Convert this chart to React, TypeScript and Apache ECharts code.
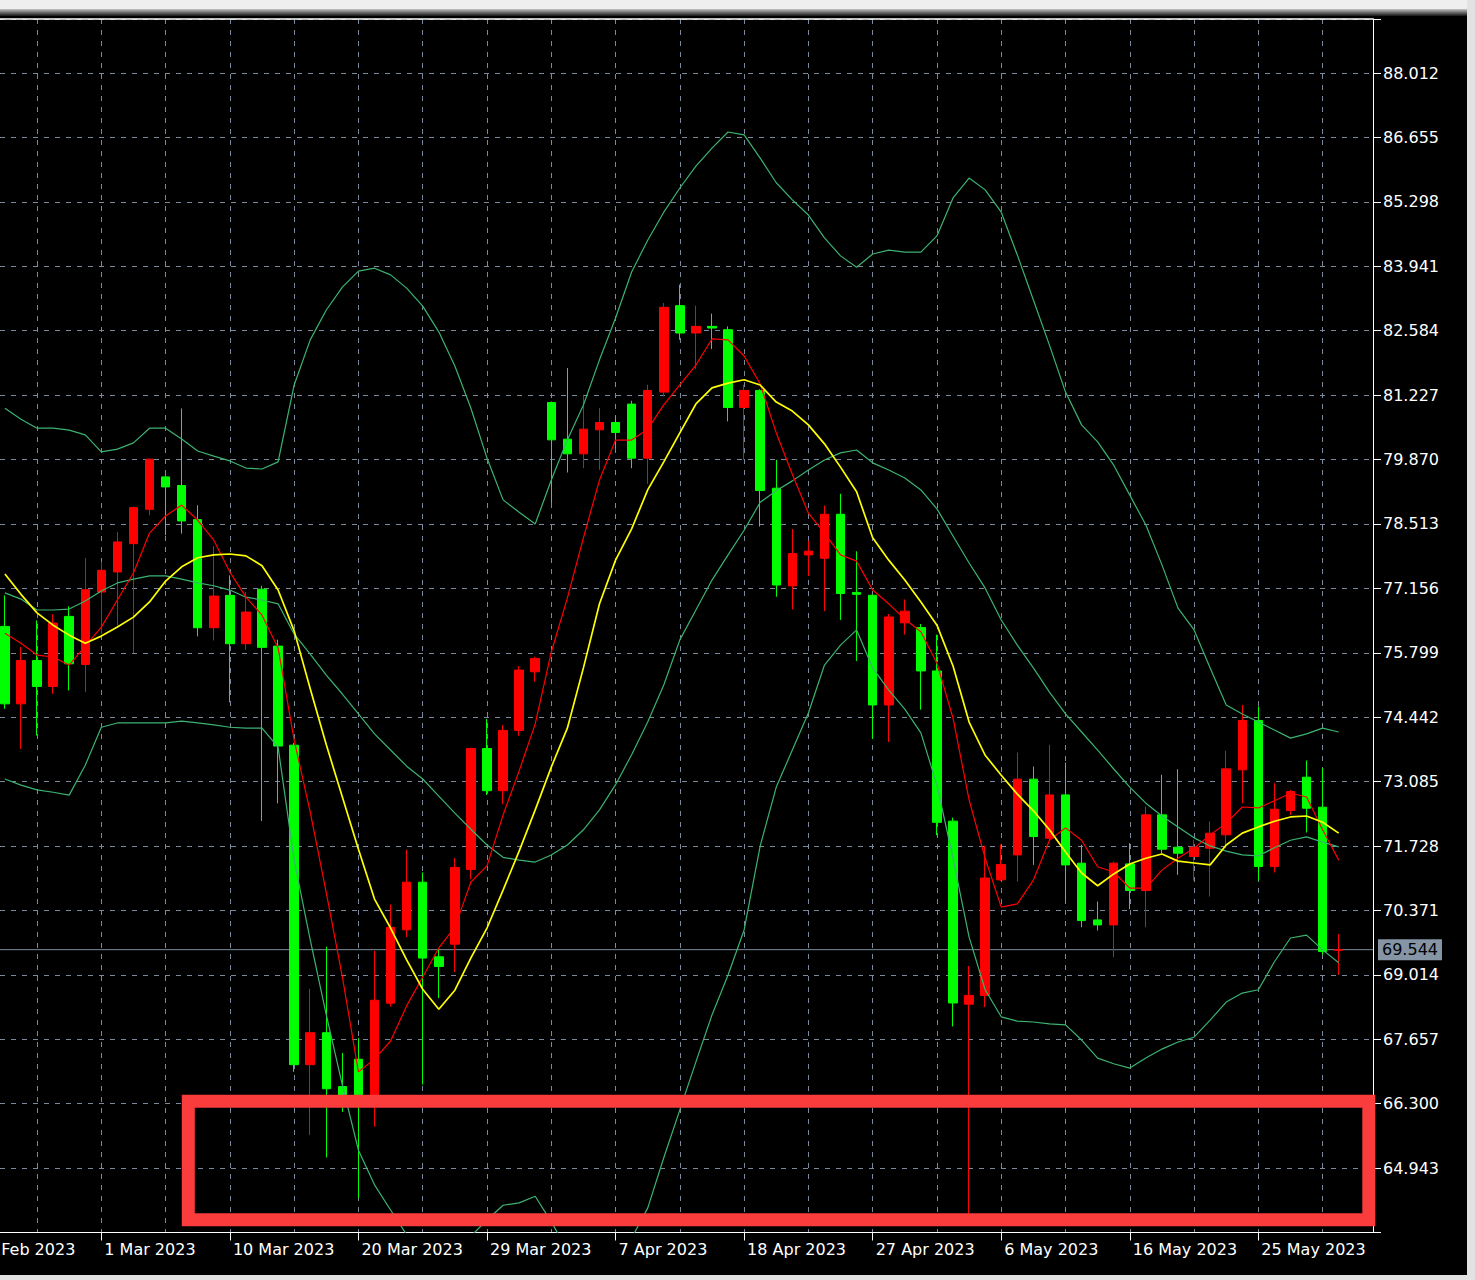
import React, { useEffect, useRef } from 'react';
import * as echarts from 'echarts';

// Bar dates (20 & 21 Feb are scrolled off to the left of the visible window)
const dates = [
  '20 Feb 2023', '21 Feb 2023', '22 Feb 2023', '23 Feb 2023', '24 Feb 2023', '25 Feb 2023', '27 Feb 2023', '28 Feb 2023',
  '1 Mar 2023', '2 Mar 2023', '3 Mar 2023', '4 Mar 2023', '6 Mar 2023', '7 Mar 2023', '8 Mar 2023', '9 Mar 2023',
  '10 Mar 2023', '11 Mar 2023', '13 Mar 2023', '14 Mar 2023', '15 Mar 2023', '16 Mar 2023', '17 Mar 2023', '18 Mar 2023',
  '20 Mar 2023', '21 Mar 2023', '22 Mar 2023', '23 Mar 2023', '24 Mar 2023', '25 Mar 2023', '27 Mar 2023', '28 Mar 2023',
  '29 Mar 2023', '30 Mar 2023', '31 Mar 2023', '1 Apr 2023', '3 Apr 2023', '4 Apr 2023', '5 Apr 2023', '6 Apr 2023',
  '7 Apr 2023', '10 Apr 2023', '11 Apr 2023', '12 Apr 2023', '13 Apr 2023', '14 Apr 2023', '15 Apr 2023', '17 Apr 2023',
  '18 Apr 2023', '19 Apr 2023', '20 Apr 2023', '21 Apr 2023', '22 Apr 2023', '24 Apr 2023', '25 Apr 2023', '26 Apr 2023',
  '27 Apr 2023', '28 Apr 2023', '29 Apr 2023', '1 May 2023', '2 May 2023', '3 May 2023', '4 May 2023', '5 May 2023',
  '6 May 2023', '8 May 2023', '9 May 2023', '10 May 2023', '11 May 2023', '12 May 2023', '13 May 2023', '15 May 2023',
  '16 May 2023', '17 May 2023', '18 May 2023', '19 May 2023', '20 May 2023', '22 May 2023', '23 May 2023', '24 May 2023',
  '25 May 2023', '26 May 2023', '27 May 2023', '29 May 2023', '30 May 2023', '31 May 2023',
];
const hiddenLeadBars = 2;

const opens = [
  76.354, 74.723, 75.637, 75.089, 76.565, 75.553, 77.079, 77.501, 78.098, 78.822,
  79.504, 79.322, 78.604, 76.326, 77.008, 75.989, 77.138, 75.939, 73.852, 67.121,
  67.795, 66.66, 67.236, 66.35, 68.417, 69.962, 70.966, 69.394, 69.66, 71.232,
  73.781, 72.893, 74.163, 75.398, 81.072, 80.299, 79.99, 80.496, 80.65, 81.037,
  79.898, 81.29, 83.111, 82.535, 82.675, 82.605, 80.967, 81.325, 79.265, 77.208,
  77.86, 77.789, 78.716, 77.07, 77.01, 74.699, 76.429, 76.33, 75.416, 72.252,
  68.396, 68.581, 71.016, 71.541, 73.136, 71.892, 72.805, 71.366, 70.171, 70.066,
  71.351, 70.79, 72.384, 71.703, 71.506, 71.682, 71.963, 73.332, 74.372, 71.295,
  72.475, 73.178, 72.546, 69.53,
];
const closes = [
  74.723, 75.637, 75.089, 76.425, 75.567, 77.128, 77.536, 78.133, 78.858, 79.877,
  79.293, 78.576, 76.326, 76.994, 75.989, 76.657, 75.913, 73.834, 67.121, 67.795,
  66.614, 66.45, 66.35, 68.479, 70.016, 70.966, 69.367, 69.19, 71.277, 73.781,
  72.893, 74.163, 75.434, 75.68, 80.285, 79.99, 80.51, 80.65, 80.44, 79.898,
  81.325, 83.076, 82.535, 82.675, 82.64, 80.967, 81.325, 79.216, 77.226, 77.888,
  77.94, 78.716, 77.047, 77.03, 74.699, 76.553, 76.676, 75.416, 72.227, 68.421,
  68.581, 71.053, 71.337, 73.136, 71.927, 72.805, 71.33, 70.157, 70.066, 71.366,
  70.79, 72.384, 71.661, 71.576, 71.703, 71.998, 73.353, 74.372, 71.295, 72.503,
  72.876, 72.524, 69.504, 69.544,
];
const lows = [
  74.618, 73.774, 74.055, 74.934, 75.005, 74.969, 76.2, 76.376, 75.792, 78.696,
  78.274, 78.309, 76.144, 76.059, 74.758, 75.862, 72.254, 72.627, 66.969, 65.637,
  65.167, 66.126, 64.305, 65.815, 68.346, 69.811, 66.703, 68.524, 69.074, 71.028,
  72.804, 72.609, 74.05, 75.187, 78.949, 79.596, 79.687, 79.652, 80.109, 79.687,
  79.357, 81.199, 82.394, 81.775, 82.197, 80.672, 79.863, 78.457, 76.98, 76.713,
  77.418, 76.676, 76.491, 75.626, 73.982, 73.92, 76.182, 74.6, 71.955, 67.926,
  63.9, 68.334, 70.991, 70.979, 71.33, 71.822, 70.579, 70.017, 69.947, 69.385,
  70.396, 70.017, 71.576, 71.12, 71.0, 70.663, 71.682, 72.63, 70.998, 71.169,
  72.384, 72.012, 69.434, 69.012,
];
const highs = [
  77.008, 75.919, 76.481, 76.608, 76.776, 77.796, 77.712, 78.344, 78.88, 79.89,
  79.54, 80.946, 78.907, 78.042, 77.43, 77.079, 77.209, 76.073, 73.9, 68.719,
  69.607, 67.369, 67.68, 69.518, 70.495, 71.65, 71.17, 69.572, 71.472, 73.8,
  74.403, 74.279, 75.518, 75.715, 81.09, 81.797, 81.234, 80.953, 80.777, 81.108,
  81.445, 83.168, 83.554, 83.111, 82.943, 82.675, 81.445, 81.35, 79.863, 78.407,
  78.159, 78.901, 79.148, 77.937, 77.02, 76.615, 76.923, 76.404, 76.182, 72.326,
  69.199, 71.733, 71.757, 73.697, 73.402, 73.859, 73.487, 71.752, 70.558, 71.401,
  71.787, 72.56, 73.227, 73.346, 71.857, 72.243, 73.733, 74.702, 74.667, 73.051,
  72.911, 73.529, 73.367, 69.876,
];

// Bollinger bands (upper / middle / lower)
const upperBand = [
  80.95, 80.72, 80.53, 80.53, 80.49, 80.39, 80.03, 80.09, 80.22, 80.53,
  80.53, 80.30, 80.05, 79.94, 79.84, 79.69, 79.67, 79.82, 81.44, 82.39,
  83.02, 83.50, 83.84, 83.90, 83.76, 83.48, 83.10, 82.56, 81.84, 80.95,
  79.90, 79.02, 78.76, 78.51, 79.44, 80.28, 81.02, 81.97, 82.85, 83.82,
  84.49, 85.08, 85.59, 86.05, 86.43, 86.77, 86.71, 86.22, 85.70, 85.34,
  85.02, 84.54, 84.16, 83.92, 84.20, 84.28, 84.24, 84.24, 84.58, 85.38,
  85.80, 85.55, 85.08, 84.18, 83.23, 82.28, 81.29, 80.60, 80.24, 79.75,
  79.12, 78.49, 77.65, 76.74, 76.28, 75.48, 74.70, 74.51, 74.34, 74.17,
  74.00, 74.09, 74.21, 74.13,
];
const midBand = [
  77.06, 76.93, 76.70, 76.70, 76.72, 76.89, 77.10, 77.27, 77.35, 77.42,
  77.42, 77.35, 77.27, 77.21, 77.12, 76.97, 76.91, 76.83, 76.19, 75.77,
  75.33, 74.93, 74.51, 74.09, 73.75, 73.41, 73.14, 72.78, 72.42, 72.08,
  71.75, 71.49, 71.43, 71.39, 71.54, 71.75, 72.07, 72.49, 73.02, 73.65,
  74.34, 75.12, 76.07, 76.70, 77.33, 77.86, 78.38, 78.97, 79.21, 79.42,
  79.65, 79.86, 80.01, 80.07, 79.80, 79.65, 79.48, 79.23, 78.83, 78.26,
  77.69, 77.16, 76.49, 75.96, 75.48, 74.97, 74.51, 74.13, 73.75, 73.35,
  72.97, 72.63, 72.36, 72.13, 71.90, 71.73, 71.62, 71.54, 71.52, 71.69,
  71.85, 71.92, 71.81, 71.71,
];
const lowerBand = [
  73.14, 73.01, 72.91, 72.86, 72.80, 73.43, 74.23, 74.32, 74.32, 74.32,
  74.32, 74.36, 74.32, 74.28, 74.23, 74.21, 74.21, 73.81, 71.43, 69.75,
  68.17, 66.69, 65.32, 64.59, 64.06, 63.54, 63.22, 63.11, 63.22, 63.51,
  63.85, 64.16, 64.21, 64.35, 63.81, 63.22, 62.90, 62.96, 63.22, 63.47,
  64.10, 65.16, 66.17, 67.18, 68.17, 69.01, 69.96, 71.73, 72.97, 73.75,
  74.53, 75.54, 75.96, 76.28, 75.48, 75.01, 74.61, 74.11, 73.01, 71.47,
  69.81, 68.70, 68.13, 68.04, 68.02, 67.98, 67.96, 67.64, 67.26, 67.14,
  67.05, 67.26, 67.45, 67.60, 67.70, 68.06, 68.44, 68.63, 68.70, 69.29,
  69.79, 69.85, 69.54, 69.27,
];
// Fast (red) and slow (yellow) moving averages
const fastMA = [
  76.21, 76.00, 75.75, 75.71, 75.54, 75.94, 76.34, 76.91, 77.48, 78.32,
  78.68, 78.91, 78.59, 78.17, 77.50, 76.97, 76.59, 75.90, 73.96, 72.44,
  70.74, 68.97, 66.97, 67.24, 67.62, 68.36, 68.97, 69.58, 70.02, 70.97,
  71.31, 72.38, 73.31, 74.30, 75.81, 76.95, 78.22, 79.44, 80.28, 80.28,
  80.51, 81.02, 81.44, 81.86, 82.41, 82.39, 82.05, 81.46, 80.43, 79.56,
  78.74, 78.32, 77.86, 77.73, 77.12, 76.83, 76.51, 76.24, 75.58, 74.42,
  72.70, 71.47, 70.44, 70.51, 71.01, 71.85, 72.11, 71.85, 71.29, 71.18,
  70.84, 70.84, 71.22, 71.47, 71.68, 71.96, 72.21, 72.55, 72.53, 72.68,
  72.84, 72.76, 72.07, 71.43,
];
const slowMA = [
  77.46, 77.03, 76.64, 76.38, 76.17, 76.00, 76.15, 76.34, 76.55, 76.87,
  77.31, 77.61, 77.80, 77.86, 77.88, 77.84, 77.63, 77.12, 76.26, 75.04,
  73.86, 72.76, 71.66, 70.61, 70.00, 69.33, 68.71, 68.29, 68.69, 69.37,
  70.00, 70.80, 71.62, 72.49, 73.39, 74.21, 75.48, 76.83, 77.75, 78.41,
  79.23, 79.82, 80.43, 81.04, 81.38, 81.48, 81.55, 81.44, 81.08, 80.89,
  80.60, 80.20, 79.71, 79.19, 78.22, 77.75, 77.33, 76.87, 76.38, 75.52,
  74.34, 73.64, 73.22, 72.82, 72.47, 72.07, 71.60, 71.16, 70.89, 71.14,
  71.35, 71.47, 71.56, 71.41, 71.37, 71.33, 71.75, 72.00, 72.13, 72.25,
  72.34, 72.36, 72.23, 72.00,
];

const currentPrice = 69.544;
const priceMin = 63.586;
const priceMax = 89.15;
const priceStep = 1.357;

const gridColor = '#7a8a9c';
const font = 'DejaVu Sans';

function buildOption() {
  const pad = Array.from({ length: hiddenLeadBars }, () => '-');
  const candleData = [
    ...Array.from({ length: hiddenLeadBars }, () => ['-', '-', '-', '-']),
    ...opens.map((o, i) => [o, closes[i], lows[i], highs[i]]),
  ];
  const lineSeries = (name: string, data: number[], color: string, width: number) => ({
    name,
    type: 'line',
    xAxisIndex: 1,
    yAxisIndex: 1,
    data: [...pad, ...data],
    symbol: 'none',
    z: 3,
    lineStyle: { color, width },
    silent: true,
  });

  return {
    animation: false,
    backgroundColor: '#000000',
    textStyle: { fontFamily: font },
    grid: [
      { left: 0, top: 19, width: 1373, height: 1213.5, containLabel: false, outerBoundsMode: 'none' },
      {
        left: 4.9 - hiddenLeadBars * 16.07, top: 19, width: 16.07 * (dates.length - 1), height: 1213.5,
        containLabel: false, outerBoundsMode: 'none',
      },
    ],
    xAxis: [
      {
        type: 'value', gridIndex: 0, min: 0, max: 1, position: 'bottom',
        axisLine: { show: true, onZero: false, lineStyle: { color: '#ffffff', width: 1 } },
        axisTick: { show: false }, axisLabel: { show: false }, splitLine: { show: false },
      },
      {
        type: 'category', gridIndex: 1, data: dates, boundaryGap: false,
        axisLine: { show: false },
        axisTick: {
          show: true, length: 8, interval: (i: number) => i % 8 === 0,
          lineStyle: { color: '#ffffff' },
        },
        axisLabel: {
          show: true, interval: (i: number) => i % 8 === 0, align: 'left',
          color: '#ffffff', fontSize: 16, fontFamily: font, margin: 9, padding: [0, 0, 0, 3],
        },
        splitLine: {
          show: true, interval: (i: number) => i % 4 === 0,
          lineStyle: { color: gridColor, width: 1, type: [5, 6] },
        },
      },
      {
        type: 'value', gridIndex: 0, min: 0, max: 1, position: 'top',
        axisLine: { show: true, onZero: false, lineStyle: { color: '#ffffff', width: 1.5 } },
        axisTick: { show: false }, axisLabel: { show: false }, splitLine: { show: false },
      },
    ],
    yAxis: [
      {
        type: 'value', gridIndex: 0, position: 'right',
        min: priceMin, max: priceMax, interval: priceStep,
        axisLine: { show: true, onZero: false, lineStyle: { color: '#ffffff', width: 1 } },
        axisTick: { show: true, length: 8, lineStyle: { color: '#ffffff' } },
        axisLabel: {
          show: true, color: '#ffffff', fontSize: 16, fontFamily: font, margin: 10,
          formatter: (v: number) =>
            Math.abs(v - priceMin) < 1e-6 || v > priceMax - priceStep / 2 ? '' : v.toFixed(3),
        },
        splitLine: { show: true, lineStyle: { color: gridColor, width: 1, type: [5, 6] } },
      },
      {
        type: 'value', gridIndex: 1, min: priceMin, max: priceMax, show: false,
        splitLine: { show: false },
      },
    ],
    series: [
      {
        name: 'Bid line',
        type: 'line',
        xAxisIndex: 0,
        yAxisIndex: 0,
        data: [[0, currentPrice], [1, currentPrice]],
        symbol: 'none',
        z: 1,
        silent: true,
        lineStyle: { color: '#7d8d9e', width: 1 },
        endLabel: {
          show: true,
          formatter: () => currentPrice.toFixed(3),
          color: '#000000',
          backgroundColor: '#8595a6',
          fontSize: 16,
          fontFamily: font,
          padding: [3, 4, 2, 4],
          distance: 5,
        },
      },
      {
        name: 'Price',
        type: 'candlestick',
        xAxisIndex: 1,
        yAxisIndex: 1,
        data: candleData,
        barWidth: 9,
        clip: false,
        z: 2,
        itemStyle: {
          color: '#ff0000',
          color0: '#00ff00',
          borderColor: '#ff0000',
          borderColor0: '#00ff00',
          borderWidth: 1,
        },
      },
      lineSeries('Upper band', upperBand, '#3cb371', 1.2),
      lineSeries('Middle band', midBand, '#3cb371', 1.2),
      lineSeries('Lower band', lowerBand, '#3cb371', 1.2),
      lineSeries('Fast MA', fastMA, '#ff0000', 1.2),
      lineSeries('Slow MA', slowMA, '#ffff00', 1.7),
    ],
    graphic: [
      { type: 'rect', z: 50, silent: true, shape: { x: 0, y: 0, width: 1475, height: 9 }, style: { fill: '#efefef' } },
      {
        type: 'rect', z: 50, silent: true, shape: { x: 0, y: 9, width: 1475, height: 7 },
        style: {
          fill: new echarts.graphic.LinearGradient(0, 0, 0, 1, [
            { offset: 0, color: '#c4c4c4' },
            { offset: 1, color: '#141414' },
          ]),
        },
      },
      { type: 'rect', z: 50, silent: true, shape: { x: 1467, y: 0, width: 8, height: 1280 }, style: { fill: '#e2e2e2' } },
      { type: 'rect', z: 50, silent: true, shape: { x: 0, y: 1275, width: 1475, height: 5 }, style: { fill: '#e2e2e2' } },
      {
        type: 'rect', z: 60, silent: true,
        shape: { x: 188.3, y: 1101.2, width: 1180.5, height: 118.6 },
        style: { fill: 'none', stroke: '#fb3c3c', lineWidth: 13 },
      },
    ],
  };
}

export default function App() {
  const ref = useRef<HTMLDivElement>(null);
  useEffect(() => {
    if (!ref.current) return;
    const chart = echarts.init(ref.current, undefined, { renderer: 'svg' });
    chart.setOption(buildOption() as any);
    return () => chart.dispose();
  }, []);
  return (
    <div
      ref={ref}
      style={{ position: 'absolute', left: 0, top: 0, width: 1475, height: 1280, background: '#000' }}
    />
  );
}
